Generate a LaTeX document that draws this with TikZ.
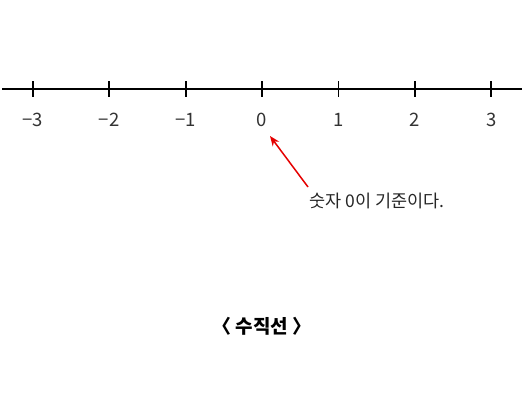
\documentclass[tikz,border=0pt]{standalone}
\usepackage{fontspec}
\setmainfont{Noto Sans CJK KR}
\usetikzlibrary{arrows.meta}
\begin{document}
\begin{tikzpicture}[x=1pt,y=-1pt,
  axis/.style={line width=1.8pt,black},
  tick/.style={line width=1.8pt,black},
  lab/.style={font=\fontsize{18.5}{20}\selectfont,text=black!80,inner sep=0pt},
  note/.style={font=\fontsize{17.5}{20}\selectfont,text=black!85,inner sep=0pt},
  title/.style={font=\fontsize{19}{21}\selectfont\bfseries,inner sep=0pt},
  pointer/.style={red!90!black,line width=1.5pt,-{Stealth[length=10pt,width=8pt]}}]
\useasboundingbox (0,0) rectangle (525,417);
\coordinate (L) at (2,89);
\coordinate (R) at (522,89);
\draw[axis] (L) -- (R);
\foreach \i/\t [count=\k] in {-3/−3,-2/−2,-1/−1,0/0,1/1,2/2,3/3}{
  \coordinate (t\k) at ({262+76.4*\i},89);
  \draw[tick] ([yshift=-8]t\k) -- ([yshift=8]t\k);
  \node[lab] (n\k) at ({262+76.4*\i},120) {\t};
}
\coordinate (tail) at (308,187);
\coordinate (tip) at (270,136);
\draw[pointer] (tail) -- (tip);
\node[note,anchor=west] (note) at (309,201) {숫자 0이 기준이다.};
\node[title] (ttl) at (262,326) {〈 수직선 〉};
\end{tikzpicture}
\end{document}
